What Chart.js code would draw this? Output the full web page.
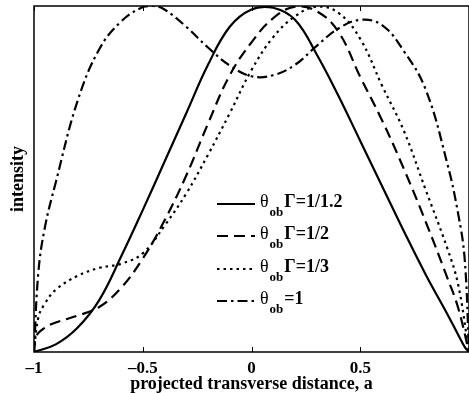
<!DOCTYPE html>
<html>
<head>
<meta charset="utf-8">
<script src="https://cdn.jsdelivr.net/npm/chart.js@4.4.0/dist/chart.umd.min.js"></script>
<style>
  html, body { margin: 0; padding: 0; background: #fff; }
  #wrap { width: 469px; height: 393px; }
</style>
</head>
<body>
<div id="wrap"><canvas id="chart"></canvas></div>
<script>
const xTicks = [-1, -0.5, 0, 0.5];

// theta_ob Gamma = 1/1.2 (solid)
const solidX = [-1, -0.9, -0.8, -0.7, -0.6, -0.5, -0.4, -0.3, -0.2, -0.1, 0, 0.1, 0.2, 0.3, 0.4, 0.5, 0.6, 0.7, 0.8, 0.9, 0.95, 0.98, 1];
const solidY = [0, 0.022, 0.07, 0.15, 0.275, 0.41, 0.55, 0.69, 0.83, 0.94, 0.99, 0.995, 0.96, 0.86, 0.74, 0.61, 0.48, 0.35, 0.225, 0.11, 0.05, 0.015, 0];

// theta_ob Gamma = 1/2 (dashed)
const dashX = [-1, -0.99, -0.95, -0.9, -0.8, -0.7, -0.6, -0.5, -0.4, -0.3, -0.2, -0.1, 0, 0.1, 0.2, 0.3, 0.4, 0.5, 0.6, 0.7, 0.8, 0.9, 0.95, 1];
const dashY = [0, 0.045, 0.07, 0.085, 0.105, 0.13, 0.185, 0.27, 0.38, 0.51, 0.66, 0.80, 0.895, 0.965, 0.998, 0.985, 0.925, 0.795, 0.67, 0.53, 0.378, 0.215, 0.128, 0];

// theta_ob Gamma = 1/3 (dotted)
const dotX = [-1, -0.98, -0.95, -0.9, -0.8, -0.7, -0.6, -0.5, -0.4, -0.3, -0.2, -0.1, 0, 0.1, 0.2, 0.3, 0.4, 0.5, 0.6, 0.7, 0.8, 0.9, 0.95, 1];
const dotY = [0, 0.1, 0.14, 0.18, 0.22, 0.243, 0.255, 0.285, 0.365, 0.458, 0.57, 0.69, 0.815, 0.91, 0.97, 0.998, 0.98, 0.905, 0.77, 0.64, 0.47, 0.3, 0.195, 0];

// theta_ob = 1 (dash-dot)
const dashDotX = [-1, -0.98, -0.95, -0.9, -0.8, -0.7, -0.6, -0.5, -0.45, -0.4, -0.3, -0.2, -0.1, 0, 0.1, 0.2, 0.3, 0.4, 0.5, 0.6, 0.7, 0.8, 0.9, 0.95, 0.98, 1];
const dashDotY = [0, 0.23, 0.36, 0.49, 0.725, 0.875, 0.955, 0.997, 1.0, 0.99, 0.94, 0.88, 0.828, 0.797, 0.80, 0.83, 0.885, 0.935, 0.96, 0.945, 0.87, 0.76, 0.545, 0.40, 0.27, 0];

const legendTail = ['\u0393=1/1.2', '\u0393=1/2', '\u0393=1/3', '=1'];
const dashes = [[], [11, 6], [2.5, 4], [10, 4, 2.5, 4]];

const pts = ( xs, ys ) => xs.map( ( x, i ) => ({ x, y: ys[i] }) );

const series = [
  pts( solidX, solidY ),
  pts( dashX, dashY ),
  pts( dotX, dotY ),
  pts( dashDotX, dashDotY )
];

const datasets = series.map( ( data, i ) => ({
  data,
  borderColor: '#000',
  borderWidth: 2.2,
  borderDash: dashes[i],
  pointRadius: 0,
  tension: 0.4,
  fill: false
}) );

const serif = "'Liberation Serif', 'DejaVu Serif', serif";

const frame = {
  id: 'frame',
  afterDraw( chart ) {
    const { ctx, chartArea: a, scales: { x } } = chart;
    ctx.save();
    ctx.setLineDash( [] );
    ctx.strokeStyle = '#000';
    ctx.lineWidth = 1.5;
    ctx.strokeRect( a.left, a.top, a.right - a.left, a.bottom - a.top );
    ctx.lineWidth = 1;
    xTicks.forEach( v => {
      const px = Math.round( x.getPixelForValue( v ) ) + 0.5;
      ctx.beginPath();
      ctx.moveTo( px, a.bottom ); ctx.lineTo( px, a.bottom - 5 );
      ctx.moveTo( px, a.top ); ctx.lineTo( px, a.top + 5 );
      ctx.stroke();
    } );

    // legend
    const x0 = 217, x1 = 255, tx = 260;
    const rows = [204, 236, 269, 301];
    rows.forEach( ( y, i ) => {
      ctx.lineWidth = 2.2;
      ctx.setLineDash( dashes[i] );
      ctx.beginPath();
      ctx.moveTo( x0, y ); ctx.lineTo( x1, y );
      ctx.stroke();
      ctx.setLineDash( [] );
      ctx.fillStyle = '#000';
      ctx.textBaseline = 'alphabetic';
      ctx.textAlign = 'left';
      ctx.font = '18px ' + serif;
      ctx.fillText( '\u03B8', tx, y + 2.5 );
      let w = ctx.measureText( '\u03B8' ).width + 1;
      ctx.font = 'bold 13px ' + serif;
      ctx.fillText( 'ob', tx + w, y + 12 );
      w += ctx.measureText( 'ob' ).width + 1;
      ctx.font = 'bold 18px ' + serif;
      ctx.fillText( legendTail[i], tx + w, y + 2.5 );
    } );
    ctx.restore();
  }
};

new Chart( document.getElementById( 'chart' ), {
  type: 'line',
  data: { datasets },
  plugins: [ frame ],
  options: {
    responsive: true,
    maintainAspectRatio: false,
    animation: false,
    layout: { padding: { top: 6, right: 0, left: 0, bottom: 0 } },
    plugins: {
      legend: { display: false },
      tooltip: { enabled: false }
    },
    scales: {
      x: {
        type: 'linear',
        min: -1,
        max: 1,
        afterBuildTicks: scale => { scale.ticks = xTicks.map( value => ({ value }) ); },
        afterFit: scale => { scale.height = 41; },
        grid: { display: false, drawTicks: false },
        border: { display: false },
        ticks: {
          padding: 8,
          color: '#000',
          font: { family: serif, size: 17, weight: 'bold', lineHeight: 1 },
          callback: v => String( v ).replace( '-', '\u2013' )
        },
        title: {
          display: true,
          text: 'projected transverse distance, a',
          color: '#000',
          font: { family: serif, size: 18, weight: 'bold', lineHeight: 1 },
          padding: { top: 0, bottom: 0 }
        }
      },
      y: {
        min: 0,
        max: 1,
        afterFit: scale => { scale.width = 34; },
        grid: { display: false, drawTicks: false },
        border: { display: false },
        ticks: { display: false },
        title: {
          display: true,
          text: 'intensity',
          color: '#000',
          font: { family: serif, size: 18, weight: 'bold' },
          padding: { top: 8, bottom: 0 }
        }
      }
    }
  }
} );
</script>
</body>
</html>
